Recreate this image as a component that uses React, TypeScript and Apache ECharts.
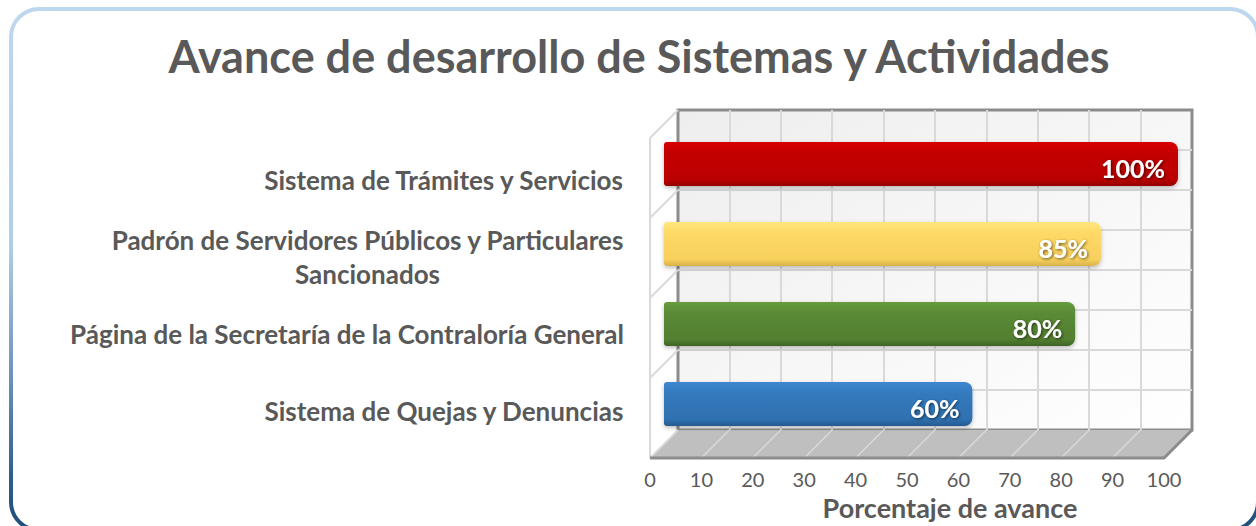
import React, { useEffect, useRef } from "react";
import * as echarts from "echarts";

const titleText = "Avance de desarrollo de Sistemas y Actividades";
const axisTitle = "Porcentaje de avance";
const categories = [
  "Sistema de Trámites y Servicios",
  "Padrón de Servidores Públicos y Particulares\nSancionados",
  "Página de la Secretaría de la Contraloría General",
  "Sistema de Quejas y Denuncias",
];
const values = [100, 85, 80, 60];
const barPalettes = [
  ["#d80000", "#c40606", "#ba0000", "#960000"],
  ["#ffe67c", "#ffd966", "#f7d05c", "#d8b24a"],
  ["#679c3e", "#5b8a37", "#537f31", "#3e6426"],
  ["#3e88cf", "#347abe", "#2f71b0", "#245a8f"],
];
const floorTicks = [0, 10, 20, 30, 40, 50, 60, 70, 80, 90, 100];
const wallRows = [0, 2, 4, 6, 8];

const FONT = "Lato, 'Open Sans', sans-serif";
const GRAY = "#595959";

export default function App() {
  const ref = useRef<HTMLDivElement>(null);
  useEffect(() => {
    if (!ref.current) return;
    const chart = echarts.init(ref.current, undefined, { renderer: "svg" });
    const D = [-28, 28];
    const sh = (p: number[]) => [p[0] + D[0], p[1] + D[1]];
    const grad = (c: string[]) =>
      new echarts.graphic.LinearGradient(0, 0, 0, 1, [
        { offset: 0, color: c[0] },
        { offset: 0.25, color: c[1] },
        { offset: 0.85, color: c[2] },
        { offset: 1, color: c[3] },
      ]);
    const option: any = {
      animation: false,
      backgroundColor: "#ffffff",
      title: {
        text: titleText,
        left: 634,
        textAlign: "center",
        top: 28,
        textStyle: { fontFamily: FONT, fontSize: 45, fontWeight: "bold", color: GRAY },
      },
      graphic: [
        {
          type: "rect",
          silent: true,
          shape: { x: 11, y: 9, width: 1247, height: 521, r: 28 },
          style: {
            fill: "none",
            lineWidth: 4,
            stroke: new echarts.graphic.LinearGradient(0, 0, 0, 1, [
              { offset: 0, color: "#bdd7ee" },
              { offset: 0.45, color: "#b2cde8" },
              { offset: 0.7, color: "#6f93bb" },
              { offset: 0.9, color: "#305c8c" },
              { offset: 1, color: "#1f4e79" },
            ]),
          },
        },
      ],
      grid: [
        {
          left: 678,
          top: 110,
          width: 514,
          height: 320,
          show: true,
          borderColor: "#8c8c8c",
          borderWidth: 3,
          backgroundColor: new echarts.graphic.LinearGradient(0, 0, 1, 1, [
            { offset: 0, color: "#eeeeee" },
            { offset: 1, color: "#ffffff" },
          ]),
        },
        { left: 664, top: 124, width: 514, height: 320 },
        { left: 650, top: 142, width: 514, height: 318 },
      ],
      xAxis: [
        {
          gridIndex: 0,
          type: "value",
          min: 0,
          max: 100,
          interval: 10,
          axisLabel: { show: false },
          axisLine: { show: false },
          axisTick: { show: false },
          splitLine: { show: true, showMinLine: false, showMaxLine: false, lineStyle: { color: "#d9d9d9", width: 2 } },
        },
        { gridIndex: 1, type: "value", min: 0, max: 100, show: false },
        {
          gridIndex: 2,
          type: "value",
          min: 0,
          max: 100,
          interval: 10,
          axisLine: { show: false },
          axisTick: { show: false },
          splitLine: { show: false },
          axisLabel: { margin: 20, fontFamily: FONT, fontSize: 20, color: GRAY },
          name: axisTitle,
          nameLocation: "middle",
          nameGap: 35,
          nameTextStyle: {
            fontFamily: FONT,
            fontSize: 27,
            fontWeight: "bold",
            color: GRAY,
            padding: [0, 0, 0, 86],
          },
        },
      ],
      yAxis: [
        {
          gridIndex: 0,
          type: "value",
          min: 0,
          max: 8,
          interval: 1,
          axisLabel: { show: false },
          axisLine: { show: false },
          axisTick: { show: false },
          splitLine: { show: true, showMinLine: false, showMaxLine: false, lineStyle: { color: "#d9d9d9", width: 2 } },
        },
        { gridIndex: 1, type: "category", inverse: true, data: categories, show: false },
        {
          gridIndex: 2,
          type: "category",
          inverse: true,
          data: categories,
          axisLine: { show: false },
          axisTick: { show: false },
          splitLine: { show: false },
          axisLabel: {
            margin: 26,
            formatter: (v: string) =>
              v
                .split("\n")
                .map((l) => `{c|${l}}`)
                .join("\n"),
            rich: {
              c: {
                align: "center",
                fontFamily: FONT,
                fontSize: 26,
                fontWeight: "bold",
                color: GRAY,
                lineHeight: 34,
              },
            },
          },
        },
      ],
      series: [
        {
          type: "custom",
          xAxisIndex: 0,
          yAxisIndex: 0,
          clip: false,
          silent: true,
          z: 1,
          data: [[0, 0]],
          renderItem: (_p: any, api: any) => {
            const bl = api.coord([0, 0]);
            const br = api.coord([100, 0]);
            const children: any[] = [
              {
                type: "polygon",
                shape: { points: [bl, br, sh(br), sh(bl)] },
                style: { fill: "#bfbfbf" },
              },
            ];
            floorTicks.slice(1, -1).forEach((t) => {
              const p = api.coord([t, 0]);
              children.push({
                type: "line",
                shape: { x1: p[0], y1: p[1], x2: p[0] + D[0], y2: p[1] + D[1] },
                style: { stroke: "#d9d9d9", lineWidth: 1.5 },
              });
            });
            wallRows.forEach((v) => {
              const p = api.coord([0, v]);
              children.push({
                type: "line",
                shape: { x1: p[0], y1: p[1], x2: p[0] + D[0], y2: p[1] + D[1] },
                style: { stroke: "#d9d9d9", lineWidth: 2 },
              });
            });
            const tl = sh(api.coord([0, 8]));
            const fb = sh(bl);
            children.push({
              type: "line",
              shape: { x1: tl[0], y1: tl[1], x2: fb[0], y2: fb[1] },
              style: { stroke: "#d9d9d9", lineWidth: 2 },
            });
            const fr = sh(br);
            children.push({
              type: "polyline",
              shape: { points: [fb, fr, br] },
              style: { stroke: "#8c8c8c", lineWidth: 3, fill: "none" },
            });
            return { type: "group", children };
          },
        },
        {
          type: "bar",
          xAxisIndex: 1,
          yAxisIndex: 1,
          barWidth: 44,
          z: 3,
          data: values.map((v, i) => ({
            value: v,
            itemStyle: {
              color: grad(barPalettes[i]),
              borderRadius: [3, 8, 8, 3],
              shadowBlur: 4,
              shadowOffsetY: 2,
              shadowColor: "rgba(0,0,0,0.25)",
            },
          })),
          label: {
            show: true,
            position: "insideRight",
            distance: 13,
            offset: [0, 4],
            formatter: "{c}%",
            fontFamily: FONT,
            fontSize: 25,
            fontWeight: "bold",
            color: "#ffffff",
            textShadowColor: "rgba(0,0,0,0.6)",
            textShadowBlur: 3,
            textShadowOffsetX: 1,
            textShadowOffsetY: 1,
          },
        },
      ],
    };
    chart.setOption(option);
    return () => chart.dispose();
  }, []);
  return (
    <div
      ref={ref}
      style={{ position: "fixed", left: 0, top: 0, width: 1256, height: 526 }}
    />
  );
}
